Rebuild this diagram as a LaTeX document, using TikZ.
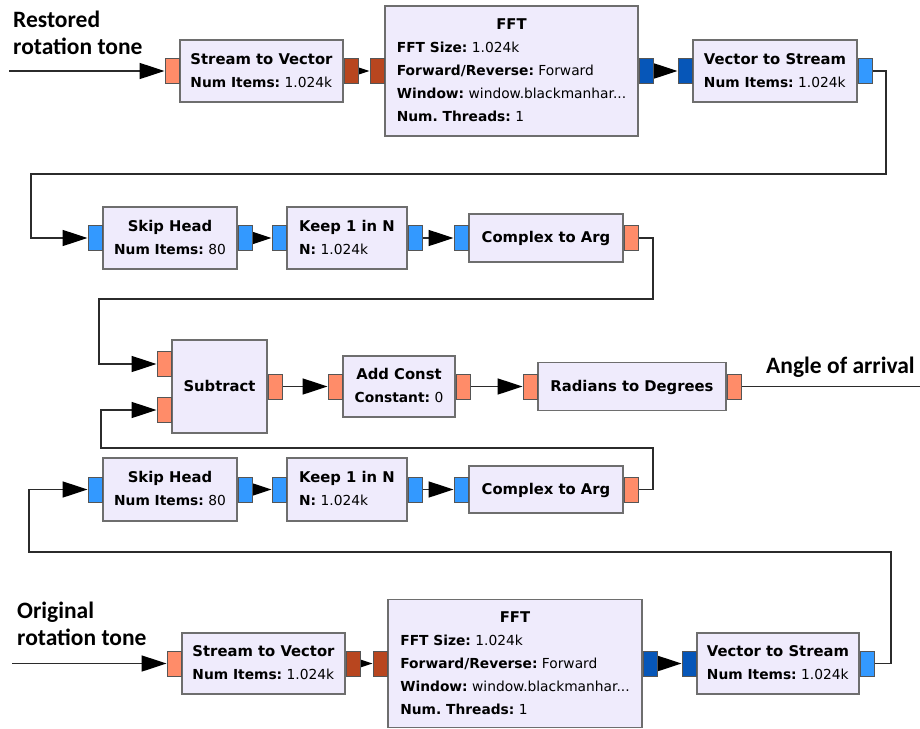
\documentclass[tikz,border=0pt]{standalone}
\usepackage{fontspec}
\setmainfont{DejaVu Sans}
\newfontfamily\lblfont{Carlito}
\usetikzlibrary{arrows.meta}
\pgfdeclarelayer{bg}
\pgfsetlayers{bg,main}
\definecolor{blockfill}{HTML}{EFEBFC}
\definecolor{blockdraw}{HTML}{6E6E6E}
\definecolor{portdraw}{HTML}{555555}
\definecolor{fltc}{HTML}{FF8C69}
\definecolor{fltv}{HTML}{B8461F}
\definecolor{cpxc}{HTML}{3399FF}
\definecolor{cpxv}{HTML}{0656B8}
\definecolor{wire}{HTML}{2B2B2B}
\frenchspacing
\newcommand{\grcb}[2]{\begin{tabular}{@{}l@{}}\multicolumn{1}{@{}c@{}}{\fontsize{14.8}{23}\selectfont\textbf{#1}}#2\end{tabular}}
\begin{document}
\begin{tikzpicture}[x=1pt,y=-1pt,
  blk/.style={draw=blockdraw, fill=blockfill, line width=1.3pt, inner sep=0pt,
    font=\fontsize{13.8}{23}\selectfont, text=black},
  port/.style={draw=portdraw, line width=0.8pt, minimum width=14pt, minimum height=25pt, inner sep=0pt},
  inport/.style={port, anchor=east},
  outport/.style={port, anchor=west},
  lbl/.style={font=\lblfont\bfseries\fontsize{23.5}{27}\selectfont, align=left, inner sep=0pt, text=black},
  conn/.style={draw=wire, line width=1.5pt},
  arr/.style={conn, -{Triangle[length=25pt,width=16pt,color=black]}}]
\useasboundingbox (0,0) rectangle (920,728);

% ---- top chain
\node[blk, minimum width=163pt, minimum height=62pt] (s2vt) at (261.5,71) {\grcb{Stream to Vector}{\\\textbf{Num Items:} 1.024k}};
\node[blk, minimum width=253pt, minimum height=130pt] (fftt) at (511.5,71) {\grcb{FFT}{\\\textbf{FFT Size:} 1.024k\\\textbf{Forward/Reverse:} Forward\\\textbf{Window:} window.blackmanhar...\\\textbf{Num. Threads:} 1}};
\node[blk, minimum width=164pt, minimum height=62pt] (v2st) at (775,71) {\grcb{Vector to Stream}{\\\textbf{Num Items:} 1.024k}};
\node[inport, fill=fltc] (s2vt-in) at (s2vt.west) {};
\node[outport, fill=fltv] (s2vt-out) at (s2vt.east) {};
\node[inport, fill=fltv] (fftt-in) at (fftt.west) {};
\node[outport, fill=cpxv] (fftt-out) at (fftt.east) {};
\node[inport, fill=cpxv] (v2st-in) at (v2st.west) {};
\node[outport, fill=cpxc] (v2st-out) at (v2st.east) {};

% ---- second row
\node[blk, minimum width=134pt, minimum height=62pt] (sht) at (170,238) {\grcb{Skip Head}{\\\textbf{Num Items:} 80}};
\node[blk, minimum width=120pt, minimum height=62pt] (kt) at (347,238) {\grcb{Keep 1 in N}{\\\textbf{N:} 1.024k}};
\node[blk, minimum width=154pt, minimum height=48pt] (cat) at (546,238) {\grcb{Complex to Arg}{}};
\node[inport, fill=cpxc] (sht-in) at (sht.west) {};
\node[outport, fill=cpxc] (sht-out) at (sht.east) {};
\node[inport, fill=cpxc] (kt-in) at (kt.west) {};
\node[outport, fill=cpxc] (kt-out) at (kt.east) {};
\node[inport, fill=cpxc] (cat-in) at (cat.west) {};
\node[outport, fill=fltc] (cat-out) at (cat.east) {};

% ---- middle row
\node[blk, minimum width=95pt, minimum height=93pt] (sub) at (219.5,386.5) {\grcb{Subtract}{}};
\node[blk, minimum width=112pt, minimum height=61pt] (ac) at (399,386.5) {\grcb{Add Const}{\\\textbf{Constant:} 0}};
\node[blk, minimum width=188pt, minimum height=48pt] (r2d) at (632,386.5) {\grcb{Radians to Degrees}{}};
\node[inport, fill=fltc] (sub-in1) at ([yshift=22.5pt]sub.west) {};
\node[inport, fill=fltc] (sub-in2) at ([yshift=-23.5pt]sub.west) {};
\node[outport, fill=fltc] (sub-out) at (sub.east) {};
\node[inport, fill=fltc] (ac-in) at (ac.west) {};
\node[outport, fill=fltc] (ac-out) at (ac.east) {};
\node[inport, fill=fltc] (r2d-in) at (r2d.west) {};
\node[outport, fill=fltc] (r2d-out) at (r2d.east) {};

% ---- fourth row
\node[blk, minimum width=134pt, minimum height=63pt] (shb) at (170,489.5) {\grcb{Skip Head}{\\\textbf{Num Items:} 80}};
\node[blk, minimum width=120pt, minimum height=63pt] (kb) at (347,489.5) {\grcb{Keep 1 in N}{\\\textbf{N:} 1.024k}};
\node[blk, minimum width=154pt, minimum height=47pt] (cab) at (546,489.5) {\grcb{Complex to Arg}{}};
\node[inport, fill=cpxc] (shb-in) at (shb.west) {};
\node[outport, fill=cpxc] (shb-out) at (shb.east) {};
\node[inport, fill=cpxc] (kb-in) at (kb.west) {};
\node[outport, fill=cpxc] (kb-out) at (kb.east) {};
\node[inport, fill=cpxc] (cab-in) at (cab.west) {};
\node[outport, fill=fltc] (cab-out) at (cab.east) {};

% ---- bottom chain
\node[blk, minimum width=163pt, minimum height=61pt] (s2vb) at (263.5,663.5) {\grcb{Stream to Vector}{\\\textbf{Num Items:} 1.024k}};
\node[blk, minimum width=254pt, minimum height=128pt] (fftb) at (515,663.5) {\grcb{FFT}{\\\textbf{FFT Size:} 1.024k\\\textbf{Forward/Reverse:} Forward\\\textbf{Window:} window.blackmanhar...\\\textbf{Num. Threads:} 1}};
\node[blk, minimum width=162pt, minimum height=61pt] (v2sb) at (778,663.5) {\grcb{Vector to Stream}{\\\textbf{Num Items:} 1.024k}};
\node[inport, fill=fltc] (s2vb-in) at (s2vb.west) {};
\node[outport, fill=fltv] (s2vb-out) at (s2vb.east) {};
\node[inport, fill=fltv] (fftb-in) at (fftb.west) {};
\node[outport, fill=cpxv] (fftb-out) at (fftb.east) {};
\node[inport, fill=cpxv] (v2sb-in) at (v2sb.west) {};
\node[outport, fill=cpxc] (v2sb-out) at (v2sb.east) {};

% ---- labels
\node[lbl, anchor=base west] (lrest) at (13,54) {Restored\\rotation tone};
\node[lbl, anchor=base west] (lorig) at (17,645) {Original\\rotation tone};
\node[lbl, anchor=base west] (laoa) at (766,373) {Angle of arrival};

\coordinate (inrest) at (9,0);
\coordinate (inorig) at (12,0);
\coordinate (outaoa) at (920,0);

% ---- connectors
\begin{pgfonlayer}{bg}
\fill[white] (0,0) rectangle (920,728);
\draw[arr] (inrest |- s2vt-in.west) -- (s2vt-in.west);
\draw[arr] (s2vt-out.east) -- (fftt-in.west);
\draw[arr] (fftt-out.east) -- (v2st-in.west);
\draw[arr] (v2st-out.east) -| (886,174) -- (31,174) |- (sht-in.west);
\draw[arr] (sht-out.east) -- (kt-in.west);
\draw[arr] (kt-out.east) -- (cat-in.west);
\draw[arr] (cat-out.east) -| (653,299) -- (99,299) |- (sub-in1.west);
\draw[arr] (cab-out.east) -| (653,448) -- (101,448) |- (sub-in2.west);
\draw[arr] (sub-out.east) -- (ac-in.west);
\draw[arr] (ac-out.east) -- (r2d-in.west);
\draw[conn] (r2d-out.east) -- (r2d-out.east -| outaoa);
\draw[arr] (inorig |- s2vb-in.west) -- (s2vb-in.west);
\draw[arr] (s2vb-out.east) -- (fftb-in.west);
\draw[arr] (fftb-out.east) -- (v2sb-in.west);
\draw[arr] (v2sb-out.east) -| (891,552) -- (29,552) |- (shb-in.west);
\draw[arr] (shb-out.east) -- (kb-in.west);
\draw[arr] (kb-out.east) -- (cab-in.west);
\end{pgfonlayer}
\end{tikzpicture}
\end{document}
